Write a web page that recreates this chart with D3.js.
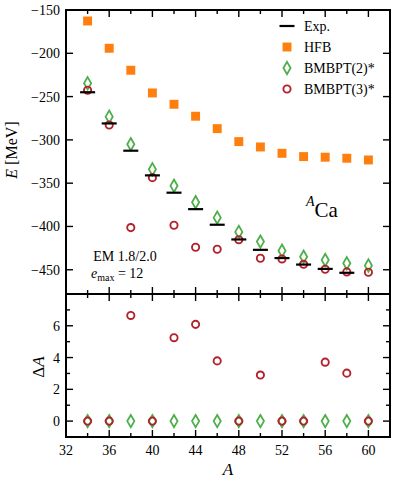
<!DOCTYPE html>
<html>
<head>
  <meta charset="utf-8">
  <script src="https://cdn.jsdelivr.net/npm/d3@7"></script>
  <style>
    body { margin: 0; background: #fff; }
    svg text { font-family: "Liberation Serif", "DejaVu Serif", serif; fill: #000; }
  </style>
</head>
<body>
  <svg width="394" height="482" id="mainsvg" font-family="Liberation Serif"></svg>
  <script>
    // mass numbers
    const massA = [34, 36, 38, 40, 42, 44, 46, 48, 50, 52, 54, 56, 58, 60];
    const expA = [34, 36, 38, 40, 42, 44, 46, 48, 50, 52, 54, 56, 58];
    const expE = [-245, -281, -312.5, -341, -361, -380, -398, -415, -427, -436.5, -444, -449, -453.5];
    const hfbE = [-162.7, -194.2, -219.6, -245.8, -258.9, -272.7, -287, -302, -308.2, -315.5, -319.3, -320, -321.2, -323.2];
    const bm2E = [-234.6, -273.2, -305, -334, -352.9, -372, -389.8, -406.3, -417.5, -428, -434.9, -438.7, -442.5, -445];
    const bm3E = [-242.7, -282.8, -401.3, -343.6, -398.6, -424, -426.3, -415.3, -436.7, -437.5, -443.7, -449.4, -452.5, -452.9];
    const bm2dA = [0, 0, 0, 0, 0, 0, 0, 0, 0, 0, 0, 0, 0, 0];
    const bm3dA = [0, 0, 6.65, 0, 5.25, 6.09, 3.79, 0, 2.9, 0, 0, 3.71, 3.02, 0];
    const eTicks = [-450, -400, -350, -300, -250, -200, -150];
    const dTicks = [0, 2, 4, 6];

    const orange = '#ff7f0e', green = '#4daf4a', red = '#b2222a';

    const svg = d3.select('#mainsvg');
    const left = 66, right = 390, top1 = 10, bot1 = 294, bot2 = 437;

    const x = d3.scaleLinear().domain([32, 62]).range([left, right]);
    const yE = d3.scaleLinear().domain([-478, -150]).range([bot1, top1]);
    const yD = d3.scaleLinear().domain([-1, 8]).range([bot2, bot1]);

    const xMajor = d3.range(32, 61, 4), xMinor = d3.range(34, 62, 4);

    // ticks, inward on every side
    function ticks(g, yTop, yBot, yMaj, yMin, ys) {
      const t = g.append('g').attr('stroke', '#000').attr('stroke-width', 1.4);
      xMajor.concat(xMinor).forEach(v => {
        const L = xMajor.includes(v) ? 7 : 4;
        t.append('line').attr('x1', x(v)).attr('x2', x(v)).attr('y1', yBot).attr('y2', yBot - L);
        t.append('line').attr('x1', x(v)).attr('x2', x(v)).attr('y1', yTop).attr('y2', yTop + L);
      });
      yMaj.concat(yMin).forEach(v => {
        const L = yMaj.includes(v) ? 7 : 4;
        t.append('line').attr('x1', left).attr('x2', left + L).attr('y1', ys(v)).attr('y2', ys(v));
        t.append('line').attr('x1', right).attr('x2', right - L).attr('y1', ys(v)).attr('y2', ys(v));
      });
    }

    const g = svg.append('g');
    ticks(g, top1, bot1, eTicks, [], yE);
    ticks(g, bot1, bot2, dTicks, [1, 3, 5, 7], yD);

    // frames
    g.append('rect').attr('x', left).attr('y', top1).attr('width', right - left).attr('height', bot1 - top1)
      .attr('fill', 'none').attr('stroke', '#000').attr('stroke-width', 2);
    g.append('rect').attr('x', left).attr('y', bot1).attr('width', right - left).attr('height', bot2 - bot1)
      .attr('fill', 'none').attr('stroke', '#000').attr('stroke-width', 2);

    // tick labels
    g.selectAll('.ye').data(eTicks).join('text')
      .attr('x', left - 6).attr('y', d => yE(d) + 5).attr('text-anchor', 'end').attr('font-size', 14)
      .text(d => '\u2212' + Math.abs(d));
    g.selectAll('.yd').data(dTicks).join('text')
      .attr('x', left - 6).attr('y', d => yD(d) + 5).attr('text-anchor', 'end').attr('font-size', 14)
      .text(d => d);
    g.selectAll('.xl').data(xMajor).join('text')
      .attr('x', d => x(d)).attr('y', bot2 + 18).attr('text-anchor', 'middle').attr('font-size', 14)
      .text(d => d);

    // axis titles
    svg.append('text').attr('transform', 'translate(17,150) rotate(-90)').attr('text-anchor', 'middle')
      .attr('font-size', 16)
      .html('<tspan font-style="italic">E</tspan> [MeV]');
    svg.append('text').attr('transform', 'translate(44,367) rotate(-90)').attr('text-anchor', 'middle')
      .attr('font-size', 17)
      .html('\u0394<tspan font-style="italic">A</tspan>');
    svg.append('text').attr('x', 228).attr('y', 475).attr('text-anchor', 'middle')
      .attr('font-size', 17).attr('font-style', 'italic').text('A');

    // markers
    const sq = d3.symbol().type(d3.symbolSquare).size(80);
    const dia = d3.symbol().type(d3.symbolDiamond).size(44);

    const plot = svg.append('g');
    plot.selectAll('.hfb').data(massA).join('path')
      .attr('transform', (d, i) => `translate(${x(d)},${yE(hfbE[i])})`)
      .attr('d', sq).attr('fill', orange);

    function drawSet(vals, ys) {
      plot.append('g').selectAll('path').data(massA).join('path')
        .attr('transform', (d, i) => `translate(${x(d)},${ys(vals[0][i])})`)
        .attr('d', dia).attr('fill', 'none').attr('stroke', green).attr('stroke-width', 1.8);
      plot.append('g').selectAll('circle').data(massA).join('circle')
        .attr('cx', d => x(d)).attr('cy', (d, i) => ys(vals[1][i])).attr('r', 3.6)
        .attr('fill', 'none').attr('stroke', red).attr('stroke-width', 1.9);
    }
    drawSet([bm2E, bm3E], yE);
    drawSet([bm2dA, bm3dA], yD);

    plot.selectAll('.exp').data(expA).join('line')
      .attr('x1', d => x(d) - 7.5).attr('x2', d => x(d) + 7.5)
      .attr('y1', (d, i) => yE(expE[i])).attr('y2', (d, i) => yE(expE[i]))
      .attr('stroke', '#000').attr('stroke-width', 2.2);

    // legend
    const lg = svg.append('g');
    const lx = 287, ly = [26, 47, 68, 89];
    lg.append('line').attr('x1', lx - 7.5).attr('x2', lx + 7.5).attr('y1', ly[0]).attr('y2', ly[0])
      .attr('stroke', '#000').attr('stroke-width', 2.2);
    lg.append('path').attr('transform', `translate(${lx},${ly[1]})`).attr('d', sq).attr('fill', orange);
    lg.append('path').attr('transform', `translate(${lx},${ly[2]})`).attr('d', dia)
      .attr('fill', 'none').attr('stroke', green).attr('stroke-width', 1.8);
    lg.append('circle').attr('cx', lx).attr('cy', ly[3]).attr('r', 3.6)
      .attr('fill', 'none').attr('stroke', red).attr('stroke-width', 1.9);
    const labels = ['Exp.', 'HFB', 'BMBPT(2)*', 'BMBPT(3)*'];
    lg.selectAll('text').data(labels).join('text')
      .attr('x', 304).attr('y', (d, i) => ly[i] + 5).attr('font-size', 14).text(d => d);

    // annotations
    svg.append('text').attr('x', 125).attr('y', 261).attr('text-anchor', 'middle').attr('font-size', 14)
      .text('EM 1.8/2.0');
    svg.append('text').attr('x', 91).attr('y', 278).attr('font-size', 14)
      .html('<tspan font-style="italic">e</tspan><tspan font-size="10" dy="3">max</tspan><tspan dy="-3"> = 12</tspan>');
    svg.append('text').attr('x', 306).attr('y', 217).attr('font-size', 21)
      .html('<tspan font-style="italic" font-size="14" dy="-11">A</tspan><tspan dy="11">Ca</tspan>');
  </script>
</body>
</html>
